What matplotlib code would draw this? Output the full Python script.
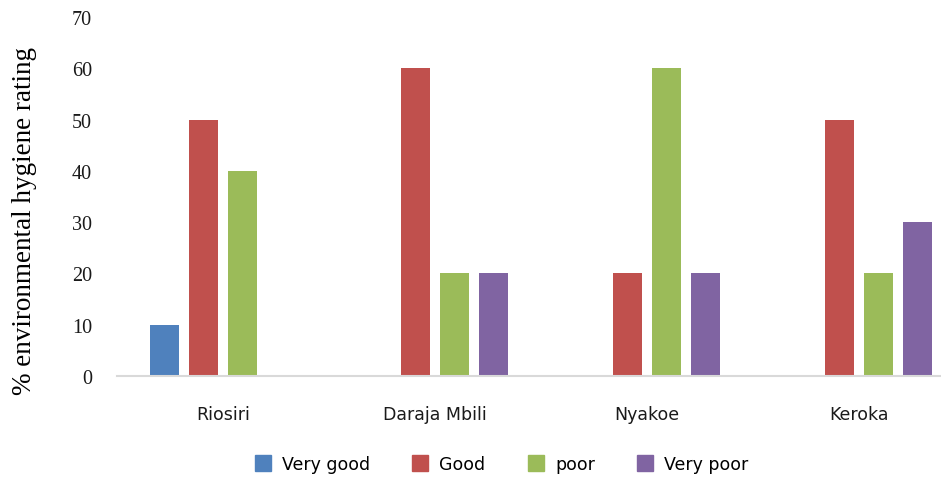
import numpy as np
import matplotlib
matplotlib.use("Agg")
import matplotlib.pyplot as plt
from matplotlib.lines import Line2D

sites = ["Riosiri", "Daraja Mbili", "Nyakoe", "Keroka"]
very_good = [10, 0, 0, 0]
good = [50, 60, 20, 50]
poor = [40, 20, 60, 20]
very_poor = [0, 20, 20, 30]

series = [("Very good", very_good, "#4F81BD"),
          ("Good", good, "#C0504D"),
          ("poor", poor, "#9BBB59"),
          ("Very poor", very_poor, "#8064A2")]

fig = plt.figure(figsize=(9.41, 4.81), dpi=100)
ax = fig.add_axes([117/941, 104/481, 1 - 117/941, 359/481])

x = np.arange(len(sites))
w = 0.14
step = 0.184
for i, (name, vals, col) in enumerate(series):
    ax.bar(x + (i - 1.5) * step, vals, width=w, color=col, label=name)

ax.set_xlim(-0.5, 3.387)
ax.set_ylim(0, 70)
ax.set_yticks(range(0, 71, 10))
ax.set_xticks(x)
ax.set_xticklabels(sites, fontsize=12.5, family="DejaVu Sans", color="#1a1a1a")
ax.tick_params(axis="x", length=0, pad=21)
ax.tick_params(axis="y", length=0, pad=18, labelsize=14.5, labelcolor="#1a1a1a")
for lab in ax.get_yticklabels():
    lab.set_family("Liberation Serif")

for s in ["top", "right", "left"]:
    ax.spines[s].set_visible(False)
ax.spines["bottom"].set_color("#D9D9D9")
ax.spines["bottom"].set_linewidth(1.5)

ax.set_ylabel("% environmental hygiene rating", family="Liberation Serif",
              fontsize=19.5, va="center")
ax.yaxis.set_label_coords(-0.112, 0.435)

handles = [Line2D([], [], marker="s", linestyle="", markersize=11,
                  markerfacecolor=c, markeredgecolor=c) for _, _, c in series]
fig.legend(handles, [n for n, _, _ in series], loc="center",
           bbox_to_anchor=(497/941, 1 - 465/481), ncol=4, frameon=False,
           fontsize=12.5, handletextpad=0.1, columnspacing=1.9)

fig.savefig("out.png", dpi=100)
